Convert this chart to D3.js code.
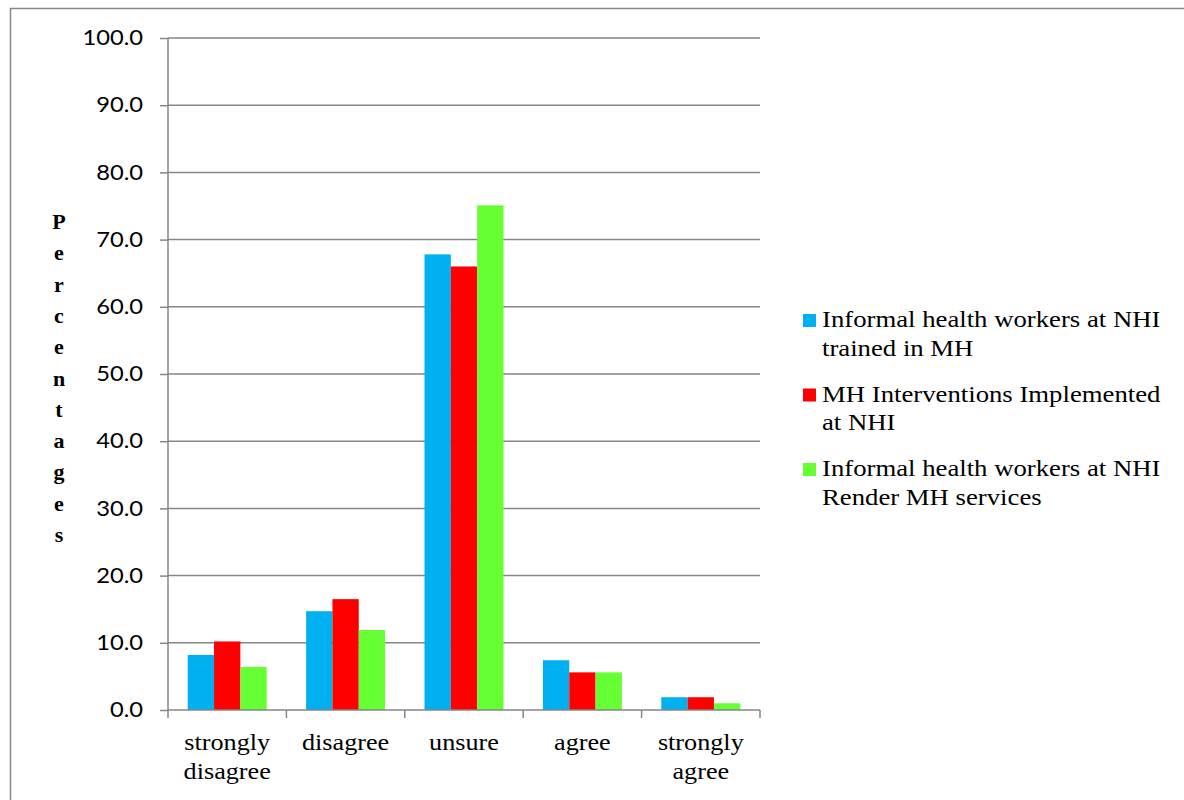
<!DOCTYPE html>
<html><head><meta charset="utf-8">
<script src="https://cdn.jsdelivr.net/npm/d3@7/dist/d3.min.js"></script>
<style>body{margin:0;background:#fff}</style>
</head><body>
<svg id="c" width="1184" height="800"></svg>
<script>
const categories = [["strongly","disagree"],["disagree"],["unsure"],["agree"],["strongly","agree"]];
const seriesNames = [["Informal health workers at NHI","trained in MH"],["MH Interventions Implemented","at NHI"],["Informal health workers at NHI","Render MH services"]];
const seriesColors = ["#00B0F0","#FF0000","#66FF33"];
const trainedValues = [8.2,14.7,67.8,7.4,1.9];
const implementedValues = [10.2,16.5,66.0,5.6,1.9];
const renderValues = [6.4,11.9,75.1,5.6,1.0];
const yTicks = [0,10,20,30,40,50,60,70,80,90,100];
const yTitle = "Percentages";

const series = [trainedValues, implementedValues, renderValues];
const SX = 1.115;
const svg = d3.select("#c");
svg.append("rect").attr("x",10.5).attr("y",8.5).attr("width",1200).attr("height",820)
  .attr("fill","none").attr("stroke","#868686").attr("stroke-width",1.5);

const x0 = d3.scaleBand().domain(d3.range(categories.length)).range([168,760]).paddingInner(0.333).paddingOuter(0.1665);
const x1 = d3.scaleBand().domain(d3.range(series.length)).range([0,x0.bandwidth()]);
const y = d3.scaleLinear().domain([0,100]).range([710,38]);

// gridlines
svg.append("g").selectAll("line").data(yTicks.filter(d=>d>0)).join("line")
  .attr("x1",168).attr("x2",760).attr("y1",d=>y(d)).attr("y2",d=>y(d))
  .attr("stroke","#868686").attr("stroke-width",1.5);

// bars
series.forEach((vals,si)=>{
  svg.append("g").selectAll("rect").data(vals).join("rect")
    .attr("x",(d,i)=>x0(i)+x1(si)).attr("width",x1.bandwidth())
    .attr("y",d=>y(d)).attr("height",d=>y(0)-y(d)).attr("fill",seriesColors[si]);
});

// y axis
const ya = d3.axisLeft(y).tickValues(yTicks).tickFormat(d3.format(".1f")).tickSize(8).tickPadding(0);
const gy = svg.append("g").attr("transform","translate(168,0)").call(ya);
gy.select(".domain").attr("stroke","#868686").attr("stroke-width",1.5).attr("d","M0,38V710");
gy.selectAll(".tick line").attr("stroke","#868686").attr("stroke-width",1.5);
gy.selectAll(".tick text").attr("font-family","Lato, 'Open Sans', sans-serif").attr("font-size",21).attr("fill","#000")
  .attr("x",0).attr("transform","translate(-25,0) scale(1.13,1)");

// x axis
const xs = d3.scaleLinear().domain([0,categories.length]).range([168,760]);
svg.append("line").attr("x1",168).attr("x2",760).attr("y1",710).attr("y2",710).attr("stroke","#868686").attr("stroke-width",1.5);
svg.append("g").selectAll("line").data(d3.range(categories.length+1)).join("line")
  .attr("x1",d=>xs(d)).attr("x2",d=>xs(d)).attr("y1",710).attr("y2",718).attr("stroke","#868686").attr("stroke-width",1.5);
const xl = svg.append("g").selectAll("text").data(categories).join("text")
  .attr("font-family","'Liberation Serif', 'Times New Roman', serif").attr("font-size",23.5).attr("text-anchor","middle")
  .attr("transform",(d,i)=>`translate(${xs(i+0.5)},750) scale(${SX},1)`);
xl.selectAll("tspan").data(d=>d).join("tspan").attr("x",0)
  .attr("dy",(d,i)=>i===0?0:29).text(d=>d);

// y title
svg.append("g").selectAll("text").data(yTitle.split("")).join("text")
  .attr("x",59).attr("y",(d,i)=>229+i*31.3).attr("text-anchor","middle")
  .attr("font-family","'Liberation Serif', serif").attr("font-weight","bold").attr("font-size",22).text(d=>d);

// legend
const lg = svg.append("g").selectAll("g").data(seriesNames).join("g")
  .attr("transform",(d,i)=>`translate(803,${309+i*74.5})`);
lg.append("rect").attr("x",0).attr("y",5).attr("width",13).attr("height",13).attr("fill",(d,i)=>seriesColors[i]);
lg.append("text").attr("font-family","'Liberation Serif', serif").attr("font-size",23.5).attr("fill","#000")
  .attr("transform",`translate(19,0) scale(1.138,1)`)
  .selectAll("tspan").data(d=>d).join("tspan").attr("x",0).attr("y",(d,i)=>18+i*29).text(d=>d);
</script>
</body></html>
